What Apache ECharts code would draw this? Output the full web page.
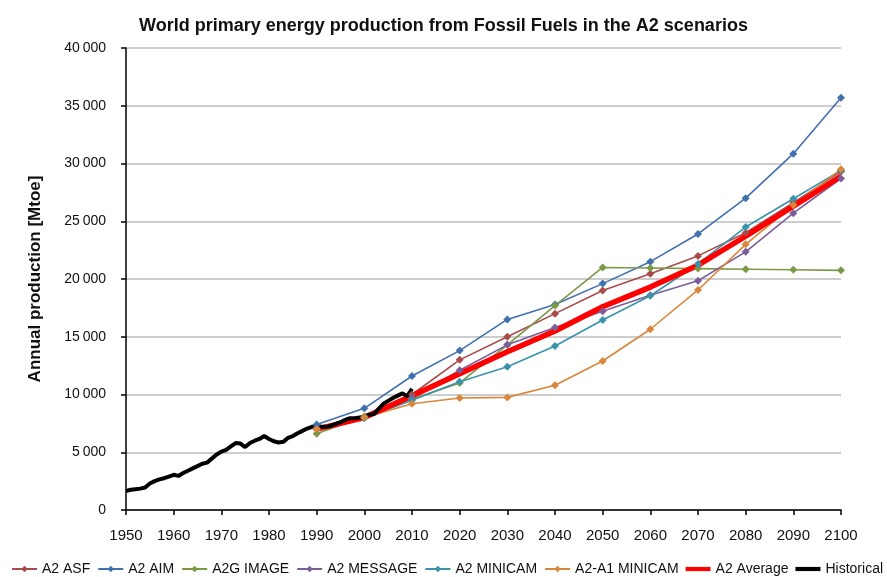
<!DOCTYPE html>
<html>
<head>
    <meta charset="utf-8" />
    <title>A2 fossil fuels</title>
    <script src="https://cdn.jsdelivr.net/npm/echarts@6/dist/echarts.min.js"></script>
    <style>
        html, body { margin: 0; padding: 0; background: #fff; }
        #chart { width: 887px; height: 577px; }
    </style>
</head>
<body>
<div id="chart"></div>
<script type="text/javascript">
// scenario years (one point each decade)
var scenYears = [1990, 2000, 2010, 2020, 2030, 2040, 2050, 2060, 2070, 2080, 2090, 2100];

var asf       = [7100, 8000, 10000, 13000, 15000, 17000, 19000, 20450, 22000, 24000, 26600, 29300];
var aim       = [7400, 8800, 11600, 13800, 16500, 17800, 19600, 21500, 23900, 27000, 30850, 35700];
var image     = [6600, 8100, 9600, 11000, 14300, 17700, 21000, 20950, 20900, 20850, 20800, 20750];
var message   = [7000, 8000, 9700, 12100, 14300, 15800, 17200, 18600, 19850, 22350, 25700, 28700];
var minicam   = [7000, 7950, 9500, 11100, 12400, 14200, 16450, 18550, 21300, 24500, 26950, 29400];
var a1minicam = [7000, 8000, 9200, 9700, 9750, 10800, 12900, 15650, 19050, 23000, 26400, 29500];
var average   = [7000, 8000, 9900, 11800, 13700, 15500, 17600, 19300, 21200, 23700, 26300, 28900];

// historical, yearly from 1950
var histStart = 1950;
var historical = [
    1650, 1750, 1800, 1850, 1950, 2300, 2500, 2650, 2750, 2900,
    3050, 2950, 3200, 3400, 3600, 3800, 4000, 4100, 4450, 4800,
    5050, 5200, 5500, 5800, 5750, 5450, 5800, 6000, 6150, 6400,
    6150, 5950, 5850, 5900, 6250, 6400, 6650, 6850, 7050, 7200,
    7250, 7200, 7200, 7300, 7450, 7600, 7800, 7950, 7950, 8000,
    8100, 8250, 8300, 8750, 9200, 9450, 9700, 9900, 10100, 9850,
    10500
];

var yTicks = [0, 5000, 10000, 15000, 20000, 25000, 30000, 35000, 40000];

function pairs(xs, ys) {
    var out = [];
    for (var i = 0; i < ys.length; i++) {
        out.push([xs[i], ys[i]]);
    }
    return out;
}

var histData = [];
for (var i = 0; i < historical.length; i++) {
    histData.push([histStart + i, historical[i]]);
}

var font = 'Liberation Sans, Arial, sans-serif';
// thick bar icon for the two lines without markers
var barIcon = 'path://M0,0 L30,0 L30,5 L0,5 Z';

function scen(name, vals, color) {
    return {
        name: name,
        type: 'line',
        data: pairs(scenYears, vals),
        symbol: 'diamond',
        symbolSize: 8,
        showSymbol: true,
        lineStyle: { color: color, width: 1.6 },
        itemStyle: { color: color },
        animation: false
    };
}

var myChart = echarts.init(document.getElementById('chart'));

myChart.setOption({
    backgroundColor: '#fff',
    textStyle: { fontFamily: font },
    title: {
        text: 'World primary energy production from Fossil Fuels in the A2 scenarios',
        left: 'center',
        top: 12,
        textStyle: { fontSize: 18, fontWeight: 'bold', color: '#111', fontFamily: font }
    },
    grid: { left: 126, right: 46, top: 48, bottom: 67 },
    legend: {
        left: 6,
        top: 557,
        width: 1000,
        itemWidth: 25,
        itemHeight: 8,
        itemGap: 7,
        textStyle: { fontSize: 14, color: '#111', fontFamily: font },
        data: [
            'A2 ASF', 'A2 AIM', 'A2G IMAGE', 'A2 MESSAGE', 'A2 MINICAM', 'A2-A1 MINICAM',
            { name: 'A2 Average', icon: barIcon },
            { name: 'Historical', icon: barIcon }
        ]
    },
    xAxis: {
        type: 'value',
        min: 1950,
        max: 2100,
        interval: 10,
        axisLine: { lineStyle: { color: '#000', width: 1.5 } },
        axisTick: { show: true, length: 5, lineStyle: { color: '#000', width: 1.5 } },
        axisLabel: {
            fontSize: 15,
            color: '#111',
            margin: 18,
            fontFamily: font,
            formatter: function(v) { return String(v); }
        },
        splitLine: { show: false }
    },
    yAxis: {
        type: 'value',
        min: yTicks[0],
        max: yTicks[yTicks.length - 1],
        interval: 5000,
        name: 'Annual production [Mtoe]',
        nameLocation: 'middle',
        nameRotate: 90,
        nameGap: 82,
        nameTextStyle: { fontSize: 17, fontWeight: 'bold', color: '#111', fontFamily: font },
        axisLine: { show: true, lineStyle: { color: '#000', width: 1.5 } },
        axisTick: { show: true, length: 5, lineStyle: { color: '#000', width: 1.5 } },
        axisLabel: {
            fontSize: 14,
            color: '#111',
            margin: 20,
            fontFamily: font,
            formatter: function(v) {
                var s = String(v);
                if (s.length > 3) {
                    s = s.slice(0, s.length - 3) + '\u2009' + s.slice(s.length - 3);
                }
                return s;
            }
        },
        splitLine: { lineStyle: { color: '#bdbdbd', width: 1.5 } }
    },
    series: [
        scen('A2 ASF', asf, '#A84B4A'),
        scen('A2 AIM', aim, '#4170AE'),
        scen('A2G IMAGE', image, '#7A9A45'),
        scen('A2 MESSAGE', message, '#7B5E99'),
        scen('A2 MINICAM', minicam, '#3A93AC'),
        scen('A2-A1 MINICAM', a1minicam, '#D9873A'),
        {
            name: 'A2 Average',
            type: 'line',
            data: pairs(scenYears, average),
            symbol: 'none',
            lineStyle: { color: '#ff0000', width: 5.5 },
            itemStyle: { color: '#ff0000' },
            animation: false
        },
        {
            name: 'Historical',
            type: 'line',
            data: histData,
            symbol: 'none',
            lineStyle: { color: '#000', width: 4 },
            itemStyle: { color: '#000' },
            animation: false
        }
    ]
});
</script>
</body>
</html>
